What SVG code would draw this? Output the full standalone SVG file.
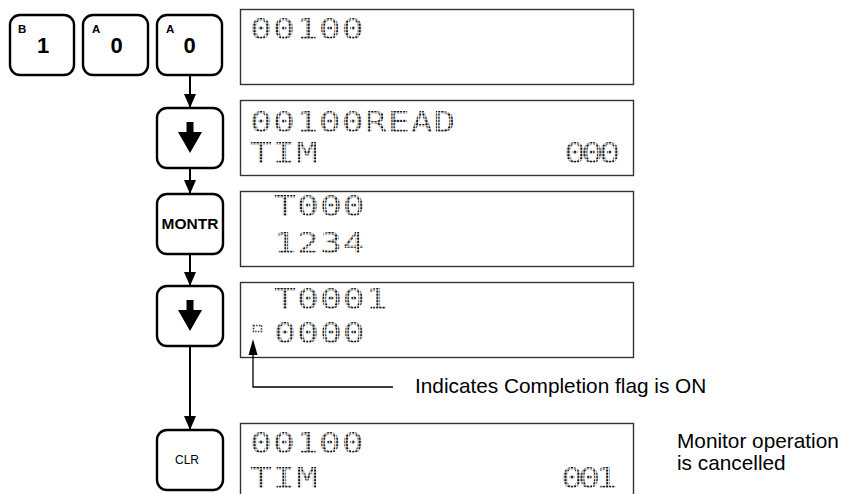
<svg xmlns="http://www.w3.org/2000/svg" width="846" height="494" viewBox="0 0 846 494">
<defs>
<pattern id="dots" patternUnits="userSpaceOnUse" width="2.45" height="3.15">
<rect x="0.2" y="0.4" width="1.7" height="2.2" fill="#111"/>
</pattern>
<marker id="ah" markerUnits="userSpaceOnUse" markerWidth="14" markerHeight="16" refX="14" refY="6" orient="auto">
<path d="M0,0 L14,6 L0,12 Z" fill="#000"/>
</marker>
</defs>
<style>
.key{fill:#fff;stroke:#000;stroke-width:2.4}
.lcdbox{fill:#fff;stroke:#333;stroke-width:1.4}
.lcd{font-family:'DejaVu Sans Mono',monospace;font-size:28px;fill:url(#dots);letter-spacing:0.8px}
.lcdr{font-family:'DejaVu Sans Mono',monospace;font-size:28px;fill:url(#dots);letter-spacing:-3.6px}
.sm{font-family:'Liberation Sans',Arial,sans-serif;font-size:11.5px;font-weight:bold}
.big{font-family:'Liberation Sans',Arial,sans-serif;font-size:22px;font-weight:bold;text-anchor:middle}
.note{font-family:'Liberation Sans',Arial,sans-serif;font-size:20.8px;fill:#000}
.conn{stroke:#000;stroke-width:2;fill:none}
</style>

<g id="key-1">
<rect class="key" x="10" y="15" width="64" height="60" rx="10"/>
<text class="sm" x="18" y="33">B</text>
<text class="big" x="43" y="52.5">1</text>
</g>
<g id="key-0a">
<rect class="key" x="83" y="15" width="65" height="60" rx="10"/>
<text class="sm" x="92" y="33">A</text>
<text class="big" x="116.5" y="52.5">0</text>
</g>
<g id="key-0b">
<rect class="key" x="157" y="15" width="65" height="60" rx="10"/>
<text class="sm" x="166" y="33">A</text>
<text class="big" x="189.5" y="52.5">0</text>
</g>

<g id="key-down1">
<rect class="key" x="157" y="108" width="66" height="60" rx="10"/>
<path d="M186.5,122 H193.5 V132 H202 L190,153 L178,132 H186.5 Z" fill="#000"/>
</g>
<g id="key-montr">
<rect class="key" x="157" y="194" width="66" height="60" rx="10"/>
<text x="190" y="228.5" text-anchor="middle" style="font-family:'Liberation Sans',Arial,sans-serif;font-size:15.5px;font-weight:bold">MONTR</text>
</g>
<g id="key-down2">
<rect class="key" x="157" y="286" width="66" height="60" rx="10"/>
<path d="M186.5,300 H193.5 V310 H202 L190,331 L178,310 H186.5 Z" fill="#000"/>
</g>
<g id="key-clr">
<rect class="key" x="157" y="430" width="66" height="60" rx="10"/>
<text x="187" y="464" text-anchor="middle" style="font-family:'Liberation Sans',Arial,sans-serif;font-size:12px">CLR</text>
</g>

<g id="display-1">
<rect class="lcdbox" x="240.5" y="9.5" width="393" height="75"/>
<text class="lcd" transform="translate(250 39) scale(1.3 1)">00100</text>
</g>
<g id="display-2">
<rect class="lcdbox" x="240.5" y="100.5" width="393" height="75"/>
<text class="lcd" transform="translate(250 132) scale(1.3 1)">00100READ</text>
<text class="lcd" transform="translate(250 163) scale(1.3 1)">TIM</text>
<text class="lcdr" transform="translate(564 163) scale(1.3 1)">000</text>
</g>
<g id="display-3">
<rect class="lcdbox" x="240.5" y="191.5" width="393" height="75"/>
<text class="lcd" transform="translate(274 216) scale(1.3 1)">T000</text>
<text class="lcd" transform="translate(274 253) scale(1.3 1)">1234</text>
</g>
<g id="display-4">
<rect class="lcdbox" x="240.5" y="282.5" width="393" height="75"/>
<text class="lcd" transform="translate(274 309) scale(1.3 1)">T0001</text>
<rect x="253.5" y="325.5" width="8" height="6" fill="none" stroke="#333" stroke-width="1.6" stroke-dasharray="1.4 1.3"/>
<text class="lcd" transform="translate(274 343) scale(1.3 1)">0000</text>
</g>
<g id="display-5">
<rect class="lcdbox" x="240.5" y="423.5" width="393" height="80"/>
<text class="lcd" transform="translate(250 453) scale(1.3 1)">00100</text>
<text class="lcd" transform="translate(250 488) scale(1.3 1)">TIM</text>
<text class="lcdr" transform="translate(561 488) scale(1.3 1)">001</text>
</g>

<g id="connectors">
<line class="conn" x1="190" y1="75" x2="190" y2="108" marker-end="url(#ah)"/>
<line class="conn" x1="190" y1="168" x2="190" y2="194" marker-end="url(#ah)"/>
<line class="conn" x1="190" y1="254" x2="190" y2="286" marker-end="url(#ah)"/>
<line class="conn" x1="190" y1="346" x2="190" y2="430" marker-end="url(#ah)"/>
<polyline points="253,354 253,387 393,387" fill="none" stroke="#000" stroke-width="1.3"/>
<path d="M253,339 L257.5,355 L248.5,355 Z" fill="#000"/>
</g>

<g id="notes">
<text class="note" x="415" y="393">Indicates Completion flag is ON</text>
<text class="note" x="677" y="448">Monitor operation</text>
<text class="note" x="677" y="470">is cancelled</text>
</g>
</svg>
